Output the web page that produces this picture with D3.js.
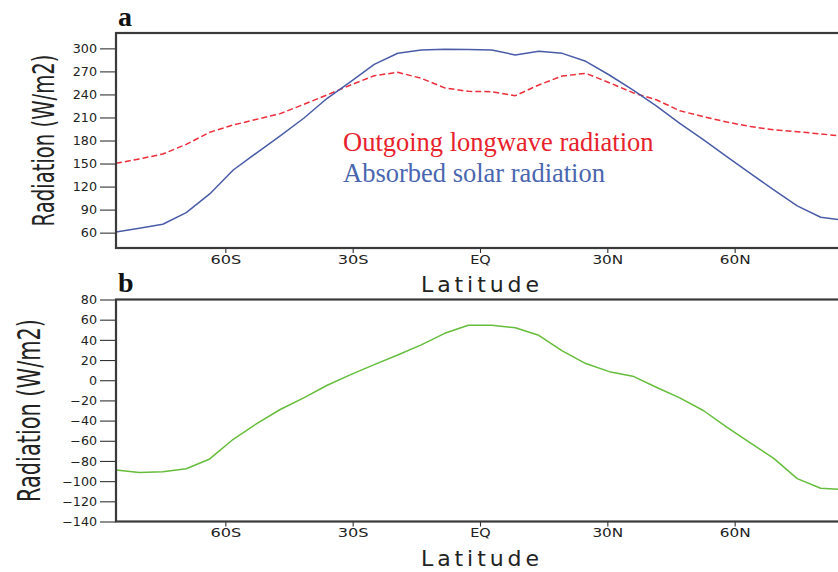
<!DOCTYPE html>
<html>
<head>
<meta charset="utf-8">
<script src="https://cdn.jsdelivr.net/npm/d3@7"></script>
<style>
  html, body { margin: 0; padding: 0; background: #fff; overflow: hidden; }
  svg { display: block; }
</style>
</head>
<body>
<svg id="chart" width="838" height="572"></svg>
<script>
// Zonal-mean latitudes (Gaussian grid, degrees; negative = south)
const latitudes = [-85.76, -80.27, -74.74, -69.21, -63.68, -58.14, -52.61, -47.07,
                   -41.53, -36.00, -30.46, -24.92, -19.38, -13.84, -8.31, -2.77,
                     2.77,   8.31,  13.84,  19.38,  24.92,  30.46, 36.00, 41.53,
                    47.07,  52.61,  58.14,  63.68,  69.21,  74.74, 80.27, 85.76];

// Absorbed solar radiation (W/m2)
const absorbedSolar = [60.9, 65.7, 70.9, 86, 110.4, 141.6, 164, 186,
                       209, 235, 256.6, 279.2, 293.6, 297.9, 298.7, 298.5,
                       297.9, 291.4, 296.1, 293.5, 283.1, 265.3, 245.8, 225,
                       202.4, 181, 159, 137.3, 115.6, 94.8, 80, 76];

// Outgoing longwave radiation (W/m2)
const outgoingLongwave = [150.3, 156, 162.4, 175, 190.7, 200.2, 207.6, 215,
                          227, 239.4, 252.3, 264.4, 268.8, 261, 248.5, 244,
                          243.6, 238.4, 252.3, 264, 267.5, 255.3, 242.3, 233,
                          218.8, 211, 204, 198.3, 193.9, 191.5, 188.5, 185.5];

// Net radiation (W/m2)
const netRadiation = [-89, -91.4, -90.8, -87.7, -78, -58.5, -43, -29,
                      -17.5, -5, 5.5, 15.5, 25, 35, 46.5, 54.5,
                      54.5, 52, 44.5, 29, 16.5, 8.5, 4, -7,
                      -17.5, -30, -46.5, -62, -77.5, -97.5, -107, -108.5];

const latTicks = [-60, -30, 0, 30, 60];
const latTickLabels = ["60S", "30S", "EQ", "30N", "60N"];
const topTicks = [60, 90, 120, 150, 180, 210, 240, 270, 300];
const bottomTicks = [-140, -120, -100, -80, -60, -40, -20, 0, 20, 40, 60, 80];

const svg = d3.select("#chart");
const plotLeft = 116, plotRight = 844;
const x = d3.scaleLinear().domain(d3.extent(latitudes)).range([plotLeft, plotRight]);

const tickFont = "'DejaVu Sans', sans-serif";

function drawPanel(cfg) {
  const g = svg.append("g");
  const y = d3.scaleLinear().domain(cfg.domain).range([cfg.bottom, cfg.top]);

  const clipId = "clip-" + cfg.id;
  svg.append("clipPath").attr("id", clipId)
    .append("rect")
    .attr("x", plotLeft).attr("y", cfg.top)
    .attr("width", plotRight - plotLeft).attr("height", cfg.bottom - cfg.top);

  // y axis
  const yAxis = g.append("g")
    .attr("transform", `translate(${plotLeft},0)`)
    .call(d3.axisLeft(y).tickValues(cfg.ticks).tickSize(16).tickSizeOuter(0).tickPadding(3));
  yAxis.select(".domain").remove();
  yAxis.selectAll(".tick line").attr("stroke", "#333").attr("stroke-width", 1.1);
  yAxis.selectAll(".tick text")
    .attr("font-family", tickFont).attr("font-size", 11.5).attr("fill", "#222")
    .attr("dy", "0.36em")
    .each(function () {
      const t = this.textContent;
      const digits = t.replace(/[^0-9]/g, "").length;
      const neg = /[−-]/.test(t);
      d3.select(this).attr("textLength", digits * 8.1 + (neg ? 10.5 : 0))
        .attr("lengthAdjust", "spacingAndGlyphs");
    });

  // x axis
  const xAxis = g.append("g")
    .attr("transform", `translate(0,${cfg.bottom})`)
    .call(d3.axisBottom(x).tickValues(latTicks).tickFormat((d, i) => latTickLabels[i])
      .tickSize(5).tickSizeOuter(0).tickPadding(2.5));
  xAxis.select(".domain").remove();
  xAxis.selectAll(".tick line").attr("stroke", "#333").attr("stroke-width", 1.1);
  xAxis.selectAll(".tick text")
    .attr("font-family", tickFont).attr("font-size", 11.5).attr("fill", "#222")
    .each(function () {
      const n = this.textContent.length;
      d3.select(this).attr("textLength", n * 10.3).attr("lengthAdjust", "spacingAndGlyphs");
    });

  // series
  const curves = g.append("g").attr("clip-path", `url(#${clipId})`);
  cfg.series.forEach(s => {
    const line = d3.line().x((d, i) => x(latitudes[i])).y(d => y(d));
    curves.append("path")
      .attr("d", line(s.values))
      .attr("fill", "none")
      .attr("stroke", s.color)
      .attr("stroke-width", s.width)
      .attr("stroke-dasharray", s.dash || null)
      .attr("stroke-linejoin", "round");
  });

  // frame
  g.append("rect")
    .attr("x", plotLeft).attr("y", cfg.top)
    .attr("width", plotRight - plotLeft).attr("height", cfg.bottom - cfg.top)
    .attr("fill", "none").attr("stroke", "#3a3a3a").attr("stroke-width", 2.2);

  // axis titles
  g.append("text")
    .attr("x", 480).attr("y", cfg.bottom + 44)
    .attr("text-anchor", "middle")
    .attr("font-family", tickFont).attr("font-size", 22).attr("fill", "#222")
    .attr("textLength", 118).attr("lengthAdjust", "spacing")
    .text("Latitude");

  // condensed vertical title: natural glyphs squeezed along the reading direction
  const yTitle = g.append("text")
    .attr("text-anchor", "middle")
    .attr("font-family", tickFont)
    .attr("font-size", cfg.yTitleSize).attr("fill", "#222")
    .text("Radiation (W/m2)");
  const natural = yTitle.node().getComputedTextLength();
  const squeeze = cfg.yTitleLen / natural;
  yTitle.attr("transform",
    `translate(${cfg.yTitleX},${(cfg.top + cfg.bottom) / 2}) rotate(-90) scale(${squeeze},1)`);

  // panel letter
  g.append("text")
    .attr("x", 118).attr("y", cfg.top - 7.5)
    .attr("font-family", "'Liberation Serif', 'Times New Roman', serif")
    .attr("font-weight", "bold").attr("font-size", 28).attr("fill", "#111")
    .text(cfg.letter);

  return { g, y };
}

const panelA = drawPanel({
  id: "a", letter: "a", top: 33, bottom: 248, domain: [40, 320], ticks: topTicks,
  yTitleX: 53.5, yTitleSize: 30, yTitleLen: 172,
  series: [
    { values: outgoingLongwave, color: "#ec2d3a", width: 1.5, dash: "6,3" },
    { values: absorbedSolar, color: "#4a5ca8", width: 1.5 }
  ]
});

drawPanel({
  id: "b", letter: "b", top: 299.5, bottom: 521.5, domain: [-140, 80], ticks: bottomTicks,
  yTitleX: 40, yTitleSize: 32, yTitleLen: 183,
  series: [
    { values: netRadiation, color: "#66bd3c", width: 1.5 }
  ]
});

// series labels inside panel a
const labelFont = "'Liberation Serif', 'Times New Roman', serif";
panelA.g.append("text")
  .attr("x", 343).attr("y", 151)
  .attr("font-family", labelFont).attr("font-size", 26.5).attr("fill", "#e8222c")
  .text("Outgoing longwave radiation");
panelA.g.append("text")
  .attr("x", 343).attr("y", 182)
  .attr("font-family", labelFont).attr("font-size", 26.5).attr("fill", "#4a66b0")
  .text("Absorbed solar radiation");
</script>
</body>
</html>
